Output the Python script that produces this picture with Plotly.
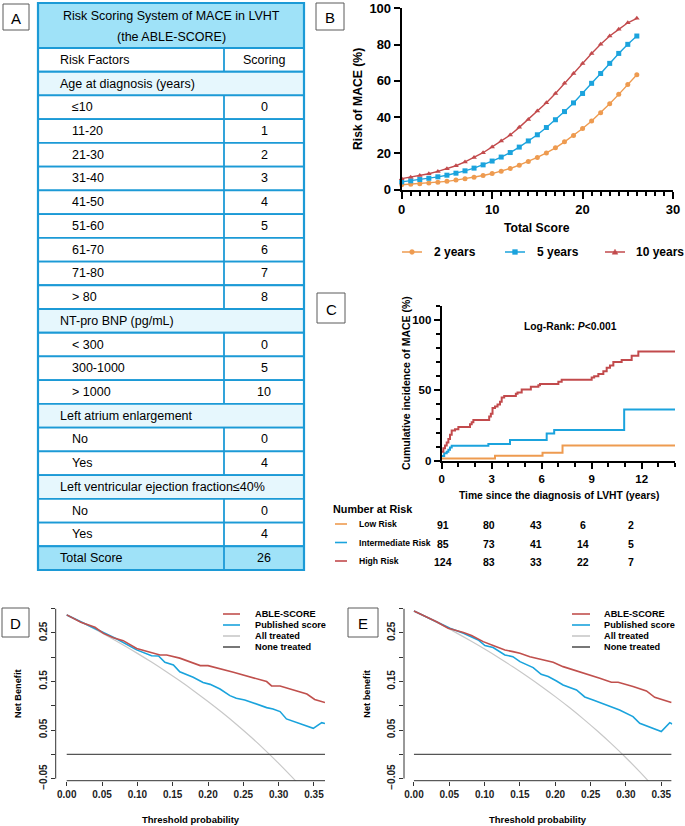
import plotly.graph_objects as go

W, H = 685, 826
FONT = "Liberation Sans, Arial, sans-serif"

# ---------------- Panel A : scoring table ----------------
table_title = ["Risk Scoring System of MACE in LVHT", "(the ABLE-SCORE)"]
factor_labels = ["Risk Factors", "Age at diagnosis (years)", "≤10", "11-20", "21-30", "31-40",
                 "41-50", "51-60", "61-70", "71-80", "> 80", "NT-pro BNP (pg/mL)", "< 300",
                 "300-1000", "> 1000", "Left atrium enlargement", "No", "Yes",
                 "Left ventricular ejection fraction≤40%", "No", "Yes", "Total Score"]
factor_scores = ["Scoring", "", "0", "1", "2", "3", "4", "5", "6", "7", "8", "", "0", "5", "10",
                 "", "0", "4", "", "0", "4", "26"]
row_kinds = ["head", "section"] + ["item"] * 9 + ["section"] + ["item"] * 3 + ["section"] + \
            ["item"] * 2 + ["section"] + ["item"] * 2 + ["total"]

# ---------------- Panel B : risk vs score ----------------
total_score = list(range(27))
risk_2y = [2.6, 2.9, 3.2, 3.6, 4.0, 4.5, 5.2, 5.9, 6.8, 7.7, 8.8, 10.1, 11.6, 13.4, 15.4, 17.7,
           20.2, 23.0, 26.3, 29.8, 33.7, 37.8, 42.4, 47.3, 52.5, 57.9, 63.3]
risk_5y = [4.2, 4.8, 5.5, 6.2, 7.0, 7.9, 9.0, 10.3, 11.8, 13.6, 15.7, 17.9, 20.4, 23.4, 26.8, 30.2,
           34.2, 38.5, 43.0, 47.8, 53.0, 58.6, 64.0, 69.6, 75.1, 80.1, 84.7]
risk_10y = [6.0, 6.8, 7.7, 8.7, 10.0, 11.4, 13.1, 15.2, 17.6, 20.3, 23.5, 26.8, 30.1, 34.3, 38.7,
            43.3, 47.9, 53.0, 58.6, 64.0, 69.6, 75.1, 80.1, 84.7, 88.4, 92.0, 94.5]
horizon_names = ["2 years", "5 years", "10 years"]

# ---------------- Panel C : cumulative incidence ----------------
high_t = [0, 0.1, 0.2, 0.3, 0.4, 0.5, 0.6, 0.8, 1.0, 1.7, 1.8, 1.9, 2.85, 2.95, 3.05, 3.2, 3.35,
          3.5, 3.6, 3.75, 4.45, 4.55, 4.8, 5.35, 5.8, 5.9, 7.0, 7.2, 9.0, 9.15, 9.4, 9.7, 9.9,
          10.1, 10.3, 10.8, 11.4, 11.8, 14]
high_v = [6.5, 9, 11, 13, 15.5, 18.5, 21.5, 22.5, 24, 26, 27.5, 29, 31.5, 33.5, 37.5, 38.5, 40,
          42, 45, 46, 47.5, 48.5, 50.5, 52.5, 53.5, 54.5, 56, 57.5, 59, 60, 61.5, 63.5, 66,
          67.5, 70, 71.5, 74.5, 77.5, 77.5]
inter_t = [0, 0.15, 0.3, 0.4, 0.5, 0.6, 2.8, 4.1, 6.3, 6.75, 10.95, 14]
inter_v = [3.5, 5.5, 6.5, 8, 9.5, 10.8, 12, 14.8, 19.5, 22, 36.5, 36.5]
low_t = [0, 3.2, 6.05, 7.25, 14]
low_v = [1.7, 3.8, 5.9, 10.9, 10.9]
risk_groups = ["Low Risk", "Intermediate Risk", "High Risk"]
at_risk = [[91, 80, 43, 6, 2], [85, 73, 41, 14, 5], [124, 83, 33, 22, 7]]

# ---------------- Panel D : decision curves ----------------
d_able_x = [0.0, 0.02, 0.04, 0.052, 0.066, 0.08, 0.099, 0.118, 0.132, 0.1415, 0.16, 0.189, 0.2,
            0.236, 0.283, 0.29, 0.302, 0.34, 0.351, 0.3656]
d_able_y = [0.287, 0.272, 0.2615, 0.249, 0.240, 0.234, 0.218, 0.211, 0.2046, 0.2046, 0.198,
            0.1826, 0.1826, 0.169, 0.1497, 0.1407, 0.1407, 0.124, 0.113, 0.1064]
d_pub_x = [0.0, 0.0425, 0.071, 0.099, 0.12, 0.13, 0.139, 0.151, 0.16, 0.179, 0.193, 0.203, 0.217,
           0.231, 0.24, 0.252, 0.283, 0.292, 0.302, 0.311, 0.349, 0.361, 0.3656]
d_pub_y = [0.287, 0.258, 0.2375, 0.215, 0.203, 0.2025, 0.1895, 0.184, 0.170, 0.1586, 0.148,
           0.144, 0.1345, 0.1208, 0.1153, 0.1119, 0.0961, 0.0934, 0.0879, 0.0728, 0.0535,
           0.0652, 0.0632]
d_all_x = [0.0, 0.02, 0.04, 0.06, 0.08, 0.10, 0.12, 0.14, 0.16, 0.18, 0.20, 0.22, 0.24, 0.26,
           0.28, 0.30, 0.32, 0.33]
d_all_y = [0.287, 0.2725, 0.2573, 0.2415, 0.225, 0.2078, 0.1898, 0.1709, 0.1512, 0.1305, 0.1087,
           0.0859, 0.0618, 0.0365, 0.0097, -0.0186, -0.0485, -0.064]

# ---------------- Panel E : decision curves ----------------
e_able_x = [0.0, 0.032, 0.0485, 0.07, 0.0815, 0.098, 0.112, 0.1287, 0.14, 0.15, 0.164, 0.178,
            0.197, 0.211, 0.23, 0.263, 0.2794, 0.289, 0.31, 0.329, 0.3407, 0.3643]
e_able_y = [0.295, 0.273, 0.2595, 0.251, 0.2444, 0.232, 0.224, 0.2149, 0.2114, 0.208, 0.201,
            0.1963, 0.1895, 0.1805, 0.1723, 0.1565, 0.1483, 0.1483, 0.1394, 0.1304, 0.1174,
            0.1064]
e_pub_x = [0.0, 0.0368, 0.051, 0.07, 0.091, 0.1004, 0.112, 0.1287, 0.14, 0.15, 0.1687, 0.18,
           0.19, 0.2017, 0.211, 0.23, 0.2417, 0.2535, 0.2724, 0.291, 0.31, 0.3195, 0.35, 0.362,
           0.3655]
e_pub_y = [0.295, 0.2698, 0.2595, 0.2492, 0.2355, 0.2238, 0.2197, 0.2046, 0.2011, 0.1908,
           0.1785, 0.1648, 0.16, 0.151, 0.1428, 0.1325, 0.1181, 0.1119, 0.1016, 0.0913, 0.0776,
           0.0638, 0.0467, 0.0652, 0.0625]
e_all_x = [0.0, 0.02, 0.04, 0.06, 0.08, 0.10, 0.12, 0.14, 0.16, 0.18, 0.20, 0.22, 0.24, 0.26,
           0.28, 0.30, 0.32, 0.34]
e_all_y = [0.295, 0.2806, 0.2656, 0.250, 0.2337, 0.2167, 0.1989, 0.1802, 0.1607, 0.1402, 0.1187,
           0.0962, 0.0724, 0.0473, 0.0208, -0.0071, -0.0368, -0.0682]

dca_names = ["ABLE-SCORE", "Published score", "All treated", "None treated"]

# ---------------- colours ----------------
ORANGE = "#EE9B50"
BLUE = "#1BA3DD"
RED = "#C24A4C"
DCA_RED = "#C0504D"
DCA_BLUE = "#1AA3DC"
LGREY = "#C8C8C8"
DGREY = "#555555"
TBL_BORDER = "#1C9AD6"
TBL_DARK = "#9FE2F8"
TBL_LIGHT = "#E6F7FD"


def px(x):
    return x / W


def py(y):
    return 1 - y / H


fig = go.Figure()
shapes = []
anns = []


def ann(text, x, y, size, bold=False, xanchor="center", yanchor="middle", angle=0,
        color="black"):
    anns.append(dict(text=text, x=px(x), y=py(y), xref="paper", yref="paper",
                     showarrow=False, xanchor=xanchor, yanchor=yanchor, textangle=angle,
                     font=dict(family=FONT, size=size, color=color,
                               weight="bold" if bold else "normal")))


def hline(x0, x1, y, col, width):
    shapes.append(dict(type="line", xref="paper", yref="paper", x0=px(x0), x1=px(x1),
                       y0=py(y), y1=py(y), line=dict(color=col, width=width)))


def label_box(letter, x0, y0, x1, y1):
    shapes.append(dict(type="rect", xref="paper", yref="paper", x0=px(x0), x1=px(x1),
                       y0=py(y1), y1=py(y0), line=dict(color="#5a5a5a", width=1),
                       fillcolor="white", layer="above"))
    ann(letter, (x0 + x1) / 2, (y0 + y1) / 2 + 1, 15)


# ---------------- table (Panel A) ----------------
TL, TR, TM = 38, 304, 224
t_top, t_head = 3, 48
t_bot = 570
rh = (t_bot - t_head) / len(factor_labels)
shapes.append(dict(type="rect", xref="paper", yref="paper", x0=px(TL), x1=px(TR),
                   y0=py(t_head), y1=py(t_top), fillcolor=TBL_DARK,
                   line=dict(color=TBL_BORDER, width=2)))
ann(table_title[0], (TL + TR) / 2, 15.5, 12.5)
ann(table_title[1], (TL + TR) / 2, 37, 12.5)
for i, (lab, sc, kind) in enumerate(zip(factor_labels, factor_scores, row_kinds)):
    top = t_head + i * rh
    bot = top + rh
    fill = {"head": "white", "section": TBL_LIGHT, "item": "white", "total": TBL_DARK}[kind]
    shapes.append(dict(type="rect", xref="paper", yref="paper", x0=px(TL), x1=px(TR),
                       y0=py(bot), y1=py(top), fillcolor=fill,
                       line=dict(color=TBL_BORDER, width=1.8)))
    if kind != "section":
        shapes.append(dict(type="line", xref="paper", yref="paper", x0=px(TM), x1=px(TM),
                           y0=py(bot), y1=py(top), line=dict(color=TBL_BORDER, width=1.8)))
    xl = 70 if kind == "item" else 58
    ann(lab, xl, (top + bot) / 2, 12.5, xanchor="left")
    if sc:
        ann(sc, (TM + TR) / 2, (top + bot) / 2, 12.5)
shapes.append(dict(type="rect", xref="paper", yref="paper", x0=px(TL), x1=px(TR),
                   y0=py(t_bot), y1=py(t_top), line=dict(color=TBL_BORDER, width=2.2)))

label_box("A", 3, 4, 29, 30)
label_box("B", 316, 3, 344, 30)
label_box("C", 317, 293, 345, 323)
label_box("D", 2, 608, 29, 637)
label_box("E", 348, 608, 378, 637)

# ---------------- Panel B ----------------
b_cols = [ORANGE, BLUE, RED]
b_syms = ["circle", "square", "triangle-up"]
for name, vals, col, sym in zip(horizon_names, [risk_2y, risk_5y, risk_10y], b_cols, b_syms):
    fig.add_trace(go.Scatter(x=total_score, y=vals, mode="lines+markers", name=name,
                             line=dict(color=col, width=1.4),
                             marker=dict(symbol=sym, size=5, color=col),
                             cliponaxis=False, xaxis="x", yaxis="y", showlegend=False))

# manual legend for Panel B
leg_y = 252
for (lx, tx), name, col, sym in zip([(402, 432), (505, 535), (605, 634)], horizon_names,
                                    b_cols, b_syms):
    hline(lx, lx + 20, leg_y, col, 1.5)
    cx = lx + 10
    if sym == "circle":
        shapes.append(dict(type="circle", xref="paper", yref="paper", x0=px(cx - 2.4),
                           x1=px(cx + 2.4), y0=py(leg_y + 2.4), y1=py(leg_y - 2.4),
                           fillcolor=col, line=dict(color=col, width=0.5)))
    elif sym == "square":
        shapes.append(dict(type="rect", xref="paper", yref="paper", x0=px(cx - 2.4),
                           x1=px(cx + 2.4), y0=py(leg_y + 2.4), y1=py(leg_y - 2.4),
                           fillcolor=col, line=dict(color=col, width=0.5)))
    else:
        shapes.append(dict(type="path", xref="paper", yref="paper",
                           path=f"M {px(cx - 2.8)},{py(leg_y + 2.2)} L {px(cx + 2.8)},"
                                f"{py(leg_y + 2.2)} L {px(cx)},{py(leg_y - 2.8)} Z",
                           fillcolor=col, line=dict(color=col, width=0.5)))
    ann(name, tx, leg_y, 12, bold=True, xanchor="left")

# ---------------- Panel C ----------------
for t, v, col in [(low_t, low_v, ORANGE), (inter_t, inter_v, BLUE), (high_t, high_v, RED)]:
    fig.add_trace(go.Scatter(x=t, y=v, mode="lines", line=dict(color=col, width=2, shape="hv"),
                             showlegend=False, xaxis="x2", yaxis="y2", cliponaxis=False))

# ---------------- Panel D / E ----------------
for (ax, ay, able_x, able_y, pub_x, pub_y, all_x, all_y) in [
        ("x3", "y3", d_able_x, d_able_y, d_pub_x, d_pub_y, d_all_x, d_all_y),
        ("x4", "y4", e_able_x, e_able_y, e_pub_x, e_pub_y, e_all_x, e_all_y)]:
    fig.add_trace(go.Scatter(x=all_x, y=all_y, mode="lines", line=dict(color=LGREY, width=1.2),
                             line_shape="spline", showlegend=False, xaxis=ax, yaxis=ay))
    fig.add_trace(go.Scatter(x=[0, able_x[-1]], y=[0, 0], mode="lines",
                             line=dict(color=DGREY, width=1.2), showlegend=False,
                             xaxis=ax, yaxis=ay))
    fig.add_trace(go.Scatter(x=pub_x, y=pub_y, mode="lines", line=dict(color=DCA_BLUE, width=1.6),
                             showlegend=False, xaxis=ax, yaxis=ay))
    fig.add_trace(go.Scatter(x=able_x, y=able_y, mode="lines", line=dict(color=DCA_RED, width=1.6),
                             showlegend=False, xaxis=ax, yaxis=ay))
    shapes.append(dict(type="line", xref=ax + " domain", yref=ay, x0=0, x1=0, y0=-0.05, y1=0.30,
                       line=dict(color="#333333", width=1)))
    shapes.append(dict(type="line", xref=ax, yref=ay + " domain", x0=0, x1=able_x[-1], y0=0,
                       y1=0, line=dict(color="#333333", width=1)))

for (lx0, lx1, tx) in [(223, 240, 253), (572, 590, 602)]:
    for k, (nm, col) in enumerate(zip(dca_names, [DCA_RED, DCA_BLUE, LGREY, DGREY])):
        yy = 614 + 11 * k
        hline(lx0, lx1, yy, col, 1.6)
        ann(nm, tx, yy, 9.2, bold=True, xanchor="left")

ann("Net Benefit", 18, 694, 9.2, bold=True, angle=-90)
ann("Net benefit", 366.7, 694, 9.2, bold=True, angle=-90)
ann("Threshold probability", 191, 819, 9.5, bold=True)
ann("Threshold probability", 538, 819, 9.5, bold=True)

ann("Risk of MACE (%)", 358, 99, 12.2, bold=True, angle=-90)
ann("Total Score", 537, 228, 12.2, bold=True)

ann("Cumulative incidence of MACE (%)", 406, 383, 10.5, bold=True, angle=-90)
ann("Time since the diagnosis of LVHT (years)", 559, 495, 10.3, bold=True)
ann("Log-Rank: <i>P</i><0.001", 570, 326, 10.3, bold=True)
ann("Number at Risk", 331, 509, 10.8, bold=True, xanchor="left")
col_x = [443, 489, 536, 583, 631]
row_y = [524, 542.5, 561]
for nm, col, yy, counts in zip(risk_groups, [ORANGE, BLUE, RED], row_y, at_risk):
    hline(335, 347, yy, col, 1.6)
    ann(nm, 357, yy, 8.6, bold=True, xanchor="left")
    for cx, n in zip(col_x, counts):
        ann(str(n), cx, yy + 1, 10.5, bold=True)

bold_tick = dict(family=FONT, size=13, color="black", weight="bold")
common = dict(showgrid=False, zeroline=False, showline=True, linecolor="black", ticks="outside",
              tickcolor="black", automargin=False)

fig.update_layout(
    width=W, height=H, margin=dict(l=0, r=0, t=0, b=0, autoexpand=False),
    paper_bgcolor="white", plot_bgcolor="white",
    font=dict(family=FONT, color="black"), showlegend=False,
    shapes=shapes, annotations=anns,
    xaxis=dict(**common, domain=[px(401.7), px(673)], range=[0, 30], tickvals=[0, 10, 20, 30],
               linewidth=2, tickwidth=2, ticklen=7, tickfont=bold_tick, anchor="y",
               minor=dict(dtick=1, ticklen=4, tickwidth=1.5, ticks="outside", tickcolor="black")),
    yaxis=dict(**common, domain=[py(189.5), py(8.3)], range=[0, 100],
               tickvals=[0, 20, 40, 60, 80, 100], linewidth=2, tickwidth=2, ticklen=6,
               tickfont=bold_tick, anchor="x"),
    xaxis2=dict(**common, domain=[px(441.7), px(675)], range=[0, 14], tickvals=[0, 3, 6, 9, 12],
                linewidth=2, tickwidth=2, ticklen=6,
                tickfont=dict(family=FONT, size=11.5, color="black", weight="bold"), anchor="y2",
                minor=dict(dtick=1, ticklen=4, tickwidth=1.5, ticks="outside", tickcolor="black")),
    yaxis2=dict(**common, domain=[py(461), py(305.5)], range=[0, 110], tickvals=[0, 50, 100],
                linewidth=2, tickwidth=2, ticklen=6,
                tickfont=dict(family=FONT, size=11.5, color="black", weight="bold"), anchor="x2",
                minor=dict(dtick=10, ticklen=3.5, tickwidth=1.5, ticks="outside",
                           tickcolor="black")),
)

dca_x_ticks = [0, 0.05, 0.10, 0.15, 0.20, 0.25, 0.30, 0.35]
dca_x_text = ["0.00", "0.05", "0.10", "0.15", "0.20", "0.25", "0.30", "0.35"]
dca_y_ticks = [-0.05, 0, 0.05, 0.10, 0.15, 0.20, 0.25, 0.30]
dca_y_text = ["−0.05", "", "0.05", "", "0.15", "", "0.25", ""]
dca_font = dict(family=FONT, size=10, color="#222222", weight="bold")
for xa, ya, xdom, xr in [("xaxis3", "yaxis3", [px(55.7), px(325)], [-0.0156, 0.3656]),
                         ("xaxis4", "yaxis4", [px(404), px(672.3)], [-0.0141, 0.3656])]:
    fig.update_layout({
        xa: dict(domain=xdom, range=xr, showgrid=False, zeroline=False, showline=False,
                 ticks="outside", ticklen=4, tickcolor="#333333", tickvals=dca_x_ticks,
                 ticktext=dca_x_text, tickfont=dca_font, anchor=ya.replace("axis", ""),
                 automargin=False),
        ya: dict(domain=[py(780.7), py(608.6)], range=[-0.0544, 0.30], showgrid=False,
                 zeroline=False, showline=False, ticks="outside", ticklen=4,
                 tickcolor="#333333", tickvals=dca_y_ticks, ticktext=dca_y_text,
                 tickangle=-90, tickfont=dca_font, anchor=xa.replace("axis", ""),
                 automargin=False),
    })

fig.write_html("out.html", config={"displayModeBar": False},
               post_script="document.body.style.margin='0px';"
                           "document.body.style.padding='0px';")
